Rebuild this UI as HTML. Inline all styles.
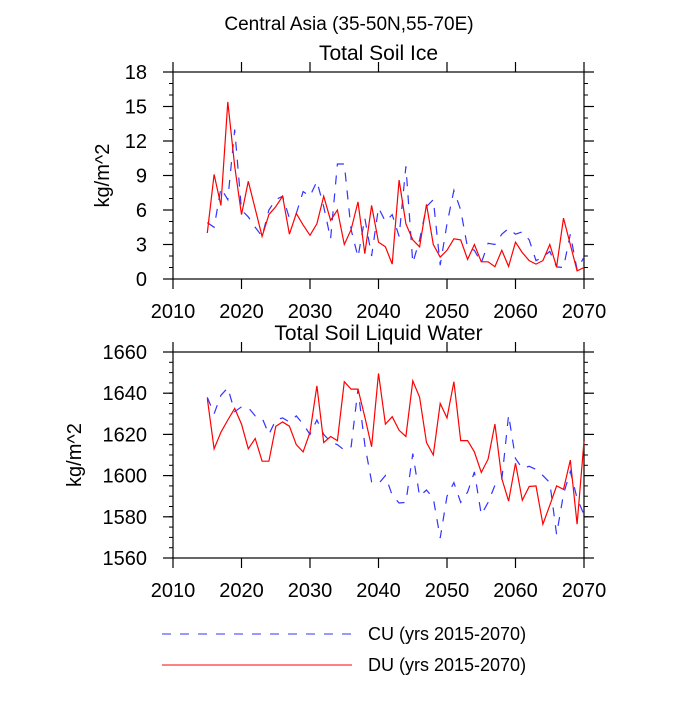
<!DOCTYPE html>
<html><head><meta charset="utf-8"><style>
body{margin:0;background:#fff;}
svg text{font-family:"Liberation Sans",sans-serif;}
</style></head><body>
<svg id="c" width="700" height="700" xmlns="http://www.w3.org/2000/svg">
<text x="349" y="30" text-anchor="middle" font-size="19">Central Asia (35-50N,55-70E)</text>
<g id="leg">
<line x1="162" y1="634" x2="352" y2="634" stroke="#3333ff" stroke-width="1" stroke-dasharray="9,9"/>
<text x="368" y="640" font-size="18">CU (yrs 2015-2070)</text>
<line x1="162" y1="665" x2="352" y2="665" stroke="#ff0000" stroke-width="1"/>
<text x="368" y="671" font-size="18">DU (yrs 2015-2070)</text>
</g>
</svg>
<script>
const years=[];for(let y=2015;y<=2070;y++)years.push(y);
const xTicks=[2010,2020,2030,2040,2050,2060,2070];
const iceTicks=[0,3,6,9,12,15,18];
const waterTicks=[1560,1580,1600,1620,1640,1660];
const iceCU=[4.9,4.5,7.9,6.9,13.0,6.0,5.4,4.5,3.7,6.0,6.9,7.2,5.3,5.7,7.6,7.2,8.5,6.3,3.5,10.0,10.0,4.3,1.9,5.3,2.0,6.2,5.0,5.6,3.7,9.8,1.4,3.4,6.3,6.9,1.2,4.8,7.7,6.0,2.7,2.5,1.4,3.1,3.0,3.9,4.4,3.9,4.1,3.4,1.6,1.9,2.4,1.05,1.0,3.9,0.8,1.9];
const iceDU=[4.0,9.1,6.4,15.4,9.8,5.6,8.5,6.1,3.7,5.6,6.3,7.2,3.9,5.7,4.7,3.8,4.8,7.2,5.1,6.0,3.0,4.3,6.7,2.2,6.4,3.2,2.8,1.3,8.6,4.8,3.4,2.8,6.5,3.0,1.9,2.5,3.5,3.4,1.7,3.0,1.5,1.5,1.07,2.5,1.1,3.2,2.3,1.6,1.3,1.6,3.0,1.05,5.3,3.0,0.7,1.0];
const waterCU=[1638,1630,1639,1642.6,1631,1633.4,1633,1629,1628,1620,1627,1628,1626,1629,1625,1620,1627,1620,1616.4,1615,1612.4,1614,1642,1615,1597,1596,1600,1590.5,1586.7,1587,1610.7,1590,1593,1589,1569.7,1590,1596.6,1587,1592,1601.8,1581,1587,1595.3,1598,1629.4,1608.3,1603.5,1604.5,1603,1600,1596.6,1571.4,1591,1602,1589,1581];
const waterDU=[1637.5,1613,1621,1627,1632.6,1625,1613,1618,1607,1607,1624,1626,1624,1615,1611.5,1621,1643.6,1616,1619,1617,1645.6,1642,1642,1628.5,1614,1649.6,1625,1628.6,1622,1619,1646,1638,1616,1610,1635,1628,1645.6,1617,1617,1611.5,1601.5,1608,1625,1598.6,1587.6,1606,1588,1594.7,1595,1576.4,1585.6,1595,1593.3,1607.5,1576.4,1616.7];

const svg=document.getElementById('c');
const NS='http://www.w3.org/2000/svg';
function mk(tag,attrs,parent){const e=document.createElementNS(NS,tag);for(const k in attrs)e.setAttribute(k,attrs[k]);(parent||svg).appendChild(e);return e;}

function panel(cfg){
  const L=173,R=584,T=cfg.top,B=cfg.bottom;
  const g=mk('g',{});
  
  
  const xs=v=>L+(v-2010)/(2070-2010)*(R-L);
  const ys=v=>B-(v-cfg.min)/(cfg.max-cfg.min)*(B-T);
  const t=mk('text',{x:(L+R)/2,y:T-12,'text-anchor':'middle','font-size':21},g);
  t.textContent=cfg.title;
  
  
  const yl=mk('text',{x:cfg.ylx,y:(T+B)/2,'text-anchor':'middle','font-size':20,transform:`rotate(-90 ${cfg.ylx} ${(T+B)/2})`},g);
  yl.textContent='kg/m^2';
  
  
  for(let v=cfg.min;v<=cfg.max+1e-9;v+=cfg.minor){
    const y=ys(v);
    mk('line',{x1:L-4,x2:L,y1:y,y2:y,stroke:'#000','stroke-width':1},g);
    mk('line',{x1:R,x2:R+4,y1:y,y2:y,stroke:'#000','stroke-width':1},g);
  }
  cfg.ticks.forEach(v=>{
    const y=ys(v);
    mk('line',{x1:L-10,x2:L,y1:y,y2:y,stroke:'#000','stroke-width':1.2},g);
    mk('line',{x1:R,x2:R+10,y1:y,y2:y,stroke:'#000','stroke-width':1.2},g);
    const tx=mk('text',{x:147,y:y+7,'text-anchor':'end','font-size':20},g);
    tx.textContent=v;
    
    
  });
  xTicks.forEach(v=>{
    const x=xs(v);
    mk('line',{x1:x,x2:x,y1:B,y2:B+10,stroke:'#000','stroke-width':1.2},g);
    mk('line',{x1:x,x2:x,y1:T-10,y2:T,stroke:'#000','stroke-width':1.2},g);
    const tx=mk('text',{x:x,y:B+39,'text-anchor':'middle','font-size':20},g);
    tx.textContent=v;
    
    
  });
  const box=mk('rect',{x:L,y:T,width:R-L,height:B-T,fill:'none',stroke:'#000','stroke-width':1.2},g);
  
  
  const pts=a=>a.map((v,i)=>xs(years[i]).toFixed(1)+','+ys(v).toFixed(1)).join(' ');
  const c=mk('polyline',{points:pts(cfg.cu),fill:'none',stroke:'#3333ff','stroke-width':1.2,'stroke-dasharray':'9,9'},g);
  
  
  const d=mk('polyline',{points:pts(cfg.du),fill:'none',stroke:'#ff0000','stroke-width':1.2},g);
  
  
}
panel({name:'ice-panel',title:'Total Soil Ice',top:72,bottom:279,min:0,max:18,minor:1,ticks:iceTicks,cu:iceCU,du:iceDU,ylx:109});
panel({name:'water-panel',title:'Total Soil Liquid Water',top:352,bottom:558,min:1560,max:1660,minor:5,ticks:waterTicks,cu:waterCU,du:waterDU,ylx:81});
</script>
</body></html>
